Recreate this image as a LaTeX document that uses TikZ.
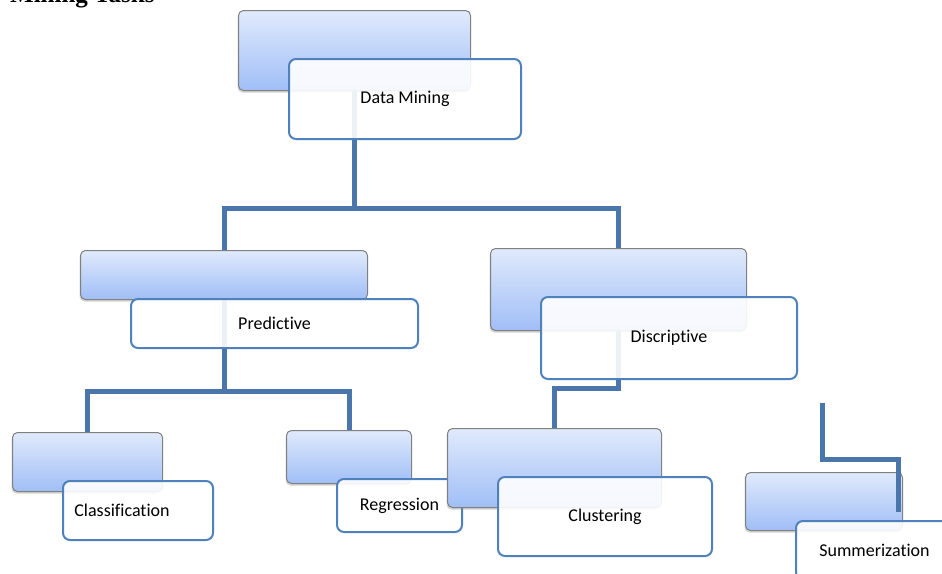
\documentclass[tikz,border=0pt]{standalone}
\usepackage{fontspec}
\setmainfont{Carlito}[Ligatures=NoCommon]
\newfontfamily\headfont{Liberation Serif}
\usetikzlibrary{calc,shadows,backgrounds}

\definecolor{linkblue}{RGB}{74,118,172}
\definecolor{rimblue}{RGB}{79,129,189}
\definecolor{boxtop}{RGB}{224,234,252}
\definecolor{boxbot}{RGB}{160,190,246}
\definecolor{boxrim}{RGB}{128,128,128}

\begin{document}
\begin{tikzpicture}[x=1pt,y=-1pt,
    font=\fontsize{18}{22}\selectfont,
    shadebox/.style={draw=boxrim,line width=1pt,rounded corners=5pt,
        top color=boxtop,bottom color=boxbot,
        drop shadow={shadow xshift=-1pt,shadow yshift=-2pt,opacity=.35}},
    labelbox/.style={draw=rimblue,line width=2pt,rounded corners=7pt,
        fill=white,fill opacity=.9,text opacity=1},
    link/.style={draw=linkblue,line width=5pt}]

    \useasboundingbox (0,0) rectangle (942,573);
    \clip (0,0) rectangle (942,573);

    \node (title) at (158,2) [anchor=base east,
        font=\headfont\bfseries\fontsize{25}{30}\selectfont] {Mining Tasks};

    \foreach \n/\x/\y/\w/\h/\s/\t in {dm/238/10/232/80/0/Data Mining,
        pred/80/250/287/49/0/Predictive,
        desc/490/248/256/82/0/Discriptive,
        class/12/432/150/59/-16/Classification,
        reg/286/430/125/53/0/Regression,
        clust/447/428/214/79/0/Clustering,
        sum/745/472/157/58/0/Summerization}
        {
            \node (\n-b) at (\x,\y) [shadebox,anchor=north west,
                minimum width=\w pt,minimum height=\h pt] {};
            \node (\n) at ($(\n-b.north west) + (50,48)$) [labelbox,anchor=north west,
                minimum width=\w pt,minimum height=\h pt] {};
            \node (\n-t) at ($(\n.center) + (\s,0)$) {\t};
        }

    \begin{scope}[on background layer]
        \draw [link] (dm-b.south) -- ($(dm-b.south) + (0,117)$) -| (pred-b.north);
        \draw [link] ($(dm-b.south) + (0,117)$) -| (desc-b.north);
        \draw [link] (pred-b.south) -- ($(pred-b.south) + (0,91)$) -| (class-b.north);
        \draw [link] ($(pred-b.south) + (0,91)$) -| (reg-b.north);
        \draw [link] (desc-b.south) -- ($(desc-b.south) + (0,57)$) -| (clust-b.north);
    \end{scope}

    \coordinate (sum-in) at (822,403);
    \coordinate (sum-end) at (898,512);
    \draw [link] (sum-in) |- ($(sum-end) + (0,-53)$) -- (sum-end);

\end{tikzpicture}
\end{document}
